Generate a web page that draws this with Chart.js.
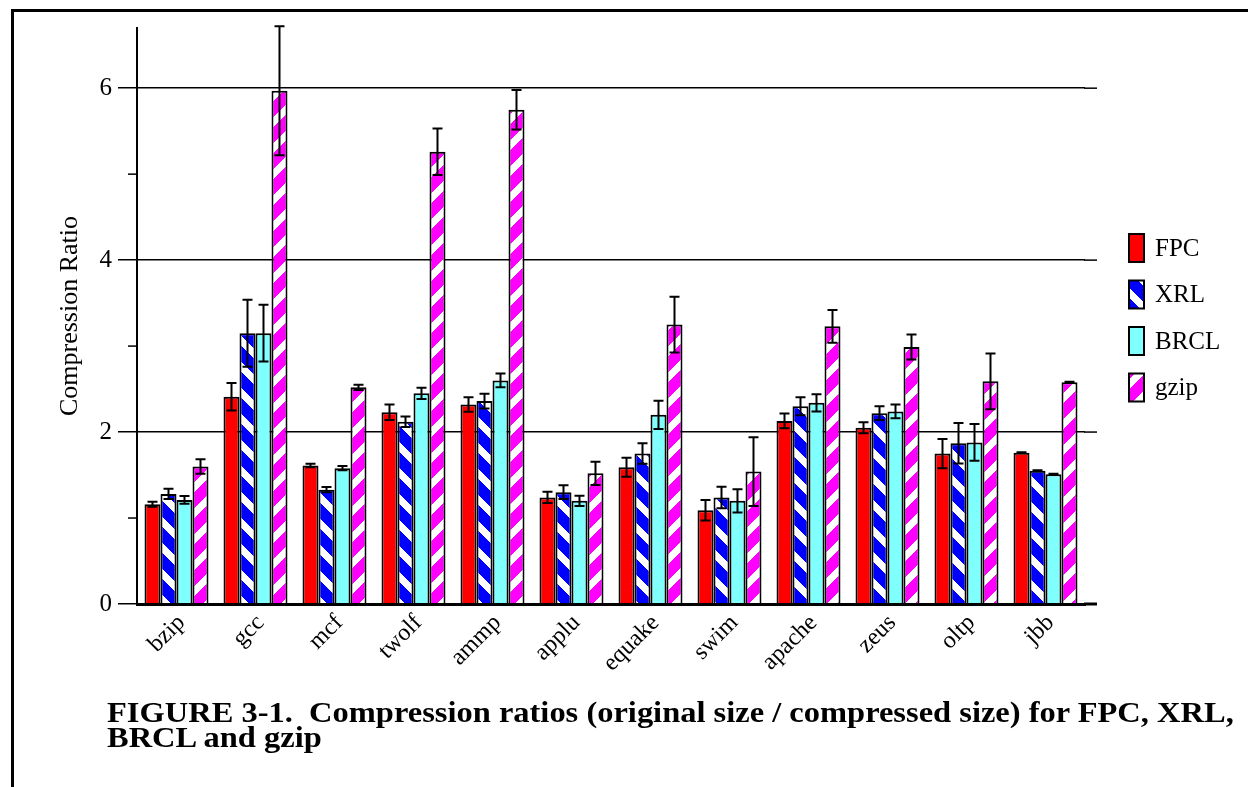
<!DOCTYPE html>
<html>
<head>
<meta charset="utf-8">
<script src="https://cdn.jsdelivr.net/npm/chart.js@4.4.1/dist/chart.umd.min.js"></script>
<style>
  html, body { margin: 0; padding: 0; background: #fff; width: 1248px; height: 787px; overflow: hidden; }
  #frame { position: absolute; left: 11px; top: 9px; width: 1400px; height: 900px;
           border-left: 3px solid #000; border-top: 3px solid #000; }
  #wrap { position: absolute; left: 0; top: 0; width: 1248px; height: 787px; }
  #caption { position: absolute; left: 107px; top: 700px; color: #000;
             font: bold 29px 'Liberation Serif', 'Times New Roman', serif; line-height: 25px; white-space: nowrap;
             transform: scaleX(1.12); transform-origin: 0 0; }
</style>
</head>
<body>
<div id="frame"></div>
<div id="wrap"><canvas id="chart" width="1248" height="787"></canvas></div>
<div id="caption">FIGURE 3-1.&nbsp; Compression ratios (original size / compressed size) for FPC, XRL,<br>BRCL and gzip</div>
<script>
const benchmarks = ['bzip', 'gcc', 'mcf', 'twolf', 'ammp', 'applu', 'equake', 'swim', 'apache', 'zeus', 'oltp', 'jbb'];

const fpc     = [1.16, 2.41, 1.61, 2.23, 2.32, 1.24, 1.59, 1.09, 2.13, 2.05, 1.75, 1.76];
const fpcErr  = [0.03, 0.16, 0.02, 0.09, 0.085, 0.065, 0.11, 0.12, 0.085, 0.065, 0.17, 0.005];
const xrl     = [1.28, 3.15, 1.33, 2.12, 2.36, 1.30, 1.75, 1.24, 2.30, 2.22, 1.87, 1.55];
const xrlErr  = [0.06, 0.39, 0.03, 0.06, 0.085, 0.08, 0.12, 0.125, 0.105, 0.08, 0.235, 0.005];
const brcl    = [1.21, 3.15, 1.58, 2.45, 2.60, 1.20, 2.20, 1.20, 2.34, 2.24, 1.88, 1.51];
const brclErr = [0.045, 0.33, 0.025, 0.065, 0.08, 0.06, 0.165, 0.135, 0.10, 0.08, 0.215, 0.005];
const gzip    = [1.60, 5.97, 2.52, 5.26, 5.75, 1.52, 3.25, 1.54, 3.23, 2.99, 2.59, 2.58];
const gzipErr = [0.085, 0.75, 0.03, 0.27, 0.23, 0.135, 0.325, 0.40, 0.19, 0.145, 0.325, 0.005];

const yMajorTicks = [0, 2, 4, 6];
const yMinorTicks = [1, 3, 5];

const SERIF = "'Liberation Serif', 'Times New Roman', serif";
const canvas = document.getElementById('chart');
const ctx = canvas.getContext('2d');

// diagonal white stripes over a solid colour, pixel by pixel so edges stay crisp
function stripes(color, dir) {
  const size = 26, band = 10;
  const tile = document.createElement('canvas');
  tile.width = tile.height = size;
  const g = tile.getContext('2d');
  g.fillStyle = color;
  g.fillRect(0, 0, size, size);
  g.fillStyle = '#fff';
  for (let y = 0; y < size; y++) {
    for (let x = 0; x < size; x++) {
      const t = dir === 'down' ? (x - y + size * 2) % size : (x + y) % size;
      if (t < band) g.fillRect(x, y, 1, 1);
    }
  }
  return ctx.createPattern(tile, 'repeat');
}

// error bars on top of every bar
const errorBars = {
  id: 'errorBars',
  afterDatasetsDraw(chart) {
    const y = chart.scales.y;
    const c = chart.ctx;
    c.save();
    c.strokeStyle = '#000';
    c.lineWidth = 2;
    chart.data.datasets.forEach((ds, i) => {
      chart.getDatasetMeta(i).data.forEach((bar, j) => {
        const top = y.getPixelForValue(ds.data[j] + ds.errors[j]);
        const bot = y.getPixelForValue(ds.data[j] - ds.errors[j]);
        c.beginPath();
        c.moveTo(bar.x, top); c.lineTo(bar.x, bot);
        c.moveTo(bar.x - 5, top); c.lineTo(bar.x + 5, top);
        c.moveTo(bar.x - 5, bot); c.lineTo(bar.x + 5, bot);
        c.stroke();
      });
    });
    c.restore();
  }
};

// minor ticks on the y axis, and the grid running a little past the last group
const axisExtras = {
  id: 'axisExtras',
  beforeDatasetsDraw(chart) {
    const y = chart.scales.y;
    const area = chart.chartArea;
    const c = chart.ctx;
    c.save();
    c.strokeStyle = '#000';
    c.lineWidth = 1.5;
    yMinorTicks.forEach(v => {
      const py = y.getPixelForValue(v);
      c.beginPath(); c.moveTo(area.left - 9, py); c.lineTo(area.left, py); c.stroke();
    });
    yMajorTicks.forEach(v => {
      const py = y.getPixelForValue(v);
      c.lineWidth = v === 0 ? 3 : 1.5;
      c.beginPath(); c.moveTo(area.right - 1, py); c.lineTo(area.right + 12, py); c.stroke();
    });
    c.restore();
  }
};

// legend down the right-hand side
const sideLegend = {
  id: 'sideLegend',
  afterDraw(chart) {
    const c = chart.ctx;
    const x = chart.chartArea.right + 44;
    c.save();
    c.font = '25px ' + SERIF;
    c.textBaseline = 'middle';
    chart.data.datasets.forEach((ds, i) => {
      const cy = 248 + i * 46.5;
      c.fillStyle = ds.backgroundColor;
      c.fillRect(x, cy - 14, 15, 28);
      c.strokeStyle = '#000';
      c.lineWidth = 2;
      c.strokeRect(x, cy - 14, 15, 28);
      c.fillStyle = '#000';
      c.fillText(ds.label, x + 26, cy + 1);
    });
    c.restore();
  }
};

function series(label, data, errors, fill) {
  return {
    label, data, errors,
    backgroundColor: fill,
    borderColor: '#000',
    borderWidth: 2,
    categoryPercentage: 0.81,
    barPercentage: 1.0
  };
}

new Chart(ctx, {
  type: 'bar',
  data: {
    labels: benchmarks,
    datasets: [
      series('FPC', fpc, fpcErr, '#ff0000'),
      series('XRL', xrl, xrlErr, stripes('#0000ff', 'down')),
      series('BRCL', brcl, brclErr, '#80ffff'),
      series('gzip', gzip, gzipErr, stripes('#ff00ff', 'up'))
    ]
  },
  options: {
    responsive: false,
    animation: false,
    devicePixelRatio: 1,
    layout: { padding: { left: 0, top: 28, right: 163, bottom: 93 } },
    plugins: { legend: { display: false }, tooltip: { enabled: false } },
    scales: {
      x: {
        afterFit: s => { s.height = 90; },
        grid: { display: false, drawTicks: false },
        border: { display: true, color: '#000', width: 3, z: 1 },
        ticks: {
          color: '#000',
          font: { family: SERIF, size: 24 },
          minRotation: 45, maxRotation: 45,
          labelOffset: 5,
          padding: 5
        }
      },
      y: {
        min: 0, max: 6.7,
        afterFit: s => { s.width = 137; },
        afterBuildTicks: s => { s.ticks = yMajorTicks.map(v => ({ value: v })); },
        grid: { color: '#000', lineWidth: 1.5, tickLength: 19, tickColor: '#000' },
        border: { display: true, color: '#000', width: 2 },
        ticks: {
          color: '#000',
          font: { family: SERIF, size: 25 },
          padding: 6
        },
        title: {
          display: true,
          text: 'Compression Ratio',
          color: '#000',
          font: { family: SERIF, size: 26 },
          padding: { top: 55, bottom: 0 }
        }
      }
    }
  },
  plugins: [axisExtras, errorBars, sideLegend]
});
</script>
</body>
</html>
